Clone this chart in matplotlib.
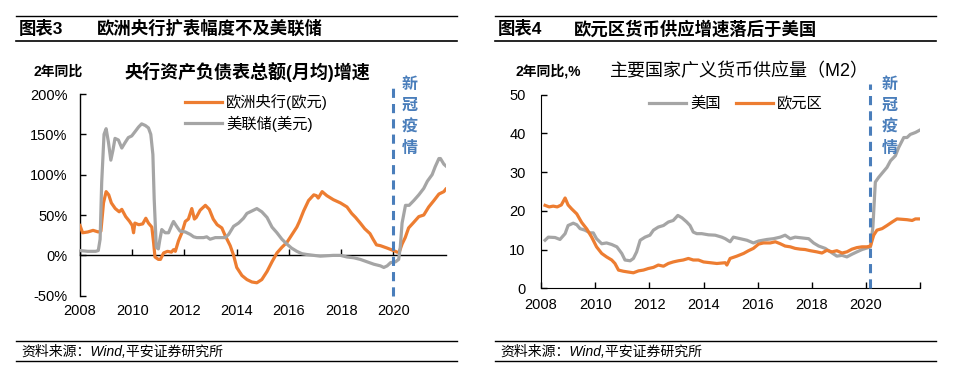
import matplotlib
matplotlib.use("Agg")
import matplotlib.pyplot as plt
from matplotlib.lines import Line2D
import numpy as np

plt.rcParams['font.family'] = ['Liberation Sans', 'Noto Sans CJK SC', 'DejaVu Sans']

# ---------------- Data: left chart (ECB / Fed balance sheet, 2y yoy %) ----------------
ecb_dates = [2008.0, 2008.1, 2008.3, 2008.5, 2008.7, 2008.8, 2008.9, 2009.0, 2009.1, 2009.2,
             2009.35, 2009.5, 2009.6, 2009.75, 2009.9, 2010.0, 2010.05, 2010.1, 2010.25, 2010.4,
             2010.52, 2010.62, 2010.75, 2010.82, 2010.87, 2011.0, 2011.08, 2011.2, 2011.35, 2011.5,
             2011.58, 2011.65, 2011.77, 2011.9, 2012.03, 2012.15, 2012.28, 2012.38, 2012.45, 2012.6,
             2012.8, 2012.95, 2013.1, 2013.25, 2013.43, 2013.55, 2013.75, 2013.88, 2014.0, 2014.2,
             2014.39, 2014.58, 2014.77, 2014.96, 2015.16, 2015.35, 2015.54, 2015.73, 2015.92, 2016.1,
             2016.3, 2016.4, 2016.56, 2016.75, 2016.95, 2017.05, 2017.12, 2017.27, 2017.45, 2017.7,
             2017.97, 2018.22, 2018.4, 2018.55, 2018.73, 2018.9, 2019.1, 2019.22, 2019.35, 2019.5,
             2019.76, 2020.0, 2020.14, 2020.22, 2020.33, 2020.45, 2020.58, 2020.75, 2020.97, 2021.16,
             2021.35, 2021.55, 2021.74, 2021.93, 2022.0]
ecb_values = [37, 28, 29, 31, 29, 30, 65, 79, 75, 65,
              58, 54, 57, 48, 42, 37, 28, 40, 38, 39,
              46, 40, 35, 15, -2, -5, -5, 3, 5, 4,
              7, 5, 18, 28, 42, 45, 58, 45, 47, 56,
              62, 57, 45, 38, 34, 25, 12, 0, -15, -25,
              -30, -33, -34, -30, -20, -8, 3, 10, 16, 25,
              35, 42, 55, 68, 75, 74, 71, 79, 74, 69,
              65, 60, 52, 47, 40, 33, 27, 20, 13, 12,
              9, 6, 4, 4, 14, 22, 34, 40, 48, 50,
              60, 68, 76, 79, 82]

fed_dates = [2008.0, 2008.3, 2008.6, 2008.7, 2008.77, 2008.83, 2008.92, 2009.0, 2009.09, 2009.18,
             2009.26, 2009.34, 2009.47, 2009.6, 2009.73, 2009.85, 2009.98, 2010.1, 2010.24, 2010.36,
             2010.5, 2010.62, 2010.71, 2010.79, 2010.84, 2010.92, 2011.0, 2011.06, 2011.13, 2011.26,
             2011.39, 2011.52, 2011.58, 2011.7, 2011.83, 2012.03, 2012.22, 2012.35, 2012.47, 2012.73,
             2012.85, 2012.98, 2013.18, 2013.37, 2013.56, 2013.69, 2013.88, 2014.07, 2014.26, 2014.39,
             2014.58, 2014.77, 2014.96, 2015.16, 2015.35, 2015.54, 2015.73, 2015.92, 2016.1, 2016.3,
             2016.5, 2016.7, 2016.95, 2017.2, 2017.7, 2017.97, 2018.22, 2018.48, 2018.73, 2018.99,
             2019.25, 2019.5, 2019.63, 2019.76, 2019.89, 2020.08, 2020.2, 2020.26, 2020.33, 2020.46,
             2020.6, 2020.78, 2020.97, 2021.16, 2021.3, 2021.48, 2021.6, 2021.74, 2021.8, 2021.93, 2022.0]
fed_values = [6, 5, 5, 6, 20, 90, 150, 157, 140, 118,
              130, 145, 143, 133, 140, 146, 148, 153, 159, 163,
              161, 158, 150, 125, 70, 10, 8, 20, 32, 28,
              28, 38, 42, 36, 30, 29, 26, 23, 22, 22,
              23, 20, 22, 22, 22, 26, 36, 40, 46, 52,
              55, 58, 54, 47, 35, 28, 20, 14, 9, 5,
              2, 1, 0, -1, 0, 0, -2, -3, -5, -8,
              -11, -13, -15, -13, -9, -8, -5, 10, 40, 62,
              62, 68, 75, 83, 92, 100, 110, 120, 120, 113, 111]

# ---------------- Data: right chart (M2, 2y yoy %) ----------------
ez_dates = [2008.15, 2008.3, 2008.45, 2008.6, 2008.75, 2008.89, 2009.0, 2009.13, 2009.32, 2009.5,
            2009.69, 2009.87, 2010.05, 2010.24, 2010.42, 2010.61, 2010.73, 2010.86, 2011.04, 2011.22,
            2011.41, 2011.6, 2011.78, 2011.96, 2012.15, 2012.33, 2012.52, 2012.7, 2012.88, 2013.07,
            2013.25, 2013.44, 2013.62, 2013.81, 2014.0, 2014.25, 2014.49, 2014.8, 2014.86, 2014.98,
            2015.23, 2015.48, 2015.66, 2015.84, 2016.03, 2016.21, 2016.46, 2016.65, 2016.83, 2017.01,
            2017.2, 2017.38, 2017.57, 2017.75, 2017.94, 2018.18, 2018.37, 2018.55, 2018.74, 2018.92,
            2019.11, 2019.29, 2019.48, 2019.66, 2019.85, 2020.03, 2020.16, 2020.28, 2020.4, 2020.59,
            2020.77, 2020.96, 2021.14, 2021.33, 2021.51, 2021.7, 2021.82, 2021.94]
ez_values = [21.4, 21.0, 21.2, 21.0, 21.5, 23.3, 21.5, 20.5, 19.2, 17.0,
             15.3, 13.2, 10.7, 9.0, 8.1, 7.3, 6.4, 4.7, 4.4, 4.2,
             4.0, 4.5, 4.7, 5.1, 5.4, 6.0, 5.7, 6.4, 6.8, 7.1,
             7.3, 7.7, 7.3, 7.3, 6.8, 6.6, 6.4, 6.6, 6.0, 7.7,
             8.3, 9.0, 9.7, 10.3, 11.4, 11.7, 11.7, 12.0, 11.5, 10.9,
             10.7, 10.3, 10.1, 10.0, 9.7, 9.4, 9.1, 9.8, 9.4, 9.7,
             9.1, 9.4, 10.1, 10.5, 10.7, 10.7, 10.9, 13.7, 15.0, 15.4,
             16.2, 17.1, 17.9, 17.8, 17.7, 17.5, 17.9, 17.9]

us_dates = [2008.15, 2008.27, 2008.52, 2008.7, 2008.89, 2009.0, 2009.19, 2009.32, 2009.44, 2009.62,
            2009.81, 2009.93, 2010.05, 2010.24, 2010.42, 2010.61, 2010.8, 2010.98, 2011.1, 2011.29,
            2011.41, 2011.53, 2011.66, 2011.84, 2012.02, 2012.15, 2012.33, 2012.52, 2012.7, 2012.88,
            2013.05, 2013.2, 2013.38, 2013.5, 2013.62, 2013.75, 2013.93, 2014.18, 2014.43, 2014.67,
            2014.8, 2014.98, 2015.1, 2015.35, 2015.6, 2015.84, 2016.03, 2016.34, 2016.58, 2016.83,
            2017.01, 2017.2, 2017.38, 2017.63, 2017.88, 2018.06, 2018.25, 2018.49, 2018.68, 2018.92,
            2019.11, 2019.29, 2019.48, 2019.66, 2019.85, 2020.03, 2020.16, 2020.25, 2020.34, 2020.46,
            2020.59, 2020.77, 2020.9, 2021.08, 2021.2, 2021.39, 2021.51, 2021.63, 2021.82, 2021.98]
us_values = [12.4, 13.2, 13.1, 12.6, 14.1, 16.2, 16.8, 16.4, 15.4, 15.0,
             14.3, 14.3, 12.8, 11.5, 11.7, 11.3, 10.7, 9.0, 7.3, 7.1,
             7.7, 9.4, 12.4, 13.2, 13.7, 15.0, 15.8, 16.2, 17.1, 17.5,
             18.8, 18.2, 17.1, 16.2, 14.5, 14.1, 14.1, 13.8, 13.7, 13.2,
             12.8, 12.0, 13.2, 12.8, 12.4, 11.7, 12.2, 12.6, 12.8, 13.2,
             13.7, 12.8, 13.2, 13.0, 12.8, 11.7, 10.9, 10.3, 9.4, 8.3,
             8.5, 8.1, 8.8, 9.4, 10.0, 10.4, 10.7, 15.8, 27.4, 28.6,
             29.7, 31.2, 32.9, 34.2, 36.3, 38.9, 38.9, 39.7, 40.2, 40.8]

left_yticks = [-50, 0, 50, 100, 150, 200]
left_ytick_labels = ['-50%', '0%', '50%', '100%', '150%', '200%']
right_yticks = [0, 10, 20, 30, 40, 50]
left_xticks = [2008, 2010, 2012, 2014, 2016, 2018, 2020]
right_xticks = [2008, 2010, 2012, 2014, 2016, 2018, 2020, 2022]
right_xtick_labels = ['2008', '2010', '2012', '2014', '2016', '2018', '2020', '']
covid_x_left = 2019.98
covid_x_right = 2020.13

ORANGE = '#ED7D31'
GRAY = '#A5A5A5'
BLUE = '#4A7EBB'

W, H = 954, 373
fig = plt.figure(figsize=(W / 100, H / 100), dpi=100)


def fx(px):
    return px / W


def fy(py):
    return 1 - py / H


def hline(x0, x1, y, lw):
    fig.add_artist(Line2D([fx(x0), fx(x1)], [fy(y), fy(y)], color='black', lw=lw,
                          transform=fig.transFigure))


# ---------- Panel decorations ----------
for (x0, x1, hx, tx, num, title) in [
        (16, 457, 19, 97, '图表3', '欧洲央行扩表幅度不及美联储'),
        (495, 936, 498, 574, '图表4', '欧元区货币供应增速落后于美国')]:
    hline(x0, x1, 16, 1.0)
    hline(x0, x1, 41, 1.2)
    hline(x0, x1, 341, 1.0)
    hline(x0, x1, 361, 1.0)
    fig.text(fx(hx), fy(28.5), num, fontsize=12.5, fontweight='bold', va='center', ha='left')
    fig.text(fx(tx), fy(28.5), title, fontsize=12.5, fontweight='bold', va='center', ha='left')
    fig.text(fx(x0 + 5), fy(351.5), '资料来源：Wind,平安证券研究所', fontsize=10,
             va='center', ha='left', style='italic')

# ---------- Left chart ----------
axL = fig.add_axes([fx(80), fy(295.7), fx(445.7) - fx(80), fy(94) - fy(295.7)])
axL.plot(ecb_dates, ecb_values, color=ORANGE, lw=2.3, label='欧洲央行(欧元)', zorder=3,
         solid_joinstyle='round')
axL.plot(fed_dates, fed_values, color=GRAY, lw=2.3, label='美联储(美元)', zorder=3,
         solid_joinstyle='round')
axL.set_xlim(2008, 2022.0)
axL.set_ylim(-50, 200)
axL.spines['top'].set_visible(False)
axL.spines['right'].set_visible(False)
axL.spines['bottom'].set_position(('data', 0))
axL.spines['left'].set_linewidth(1.0)
axL.spines['bottom'].set_linewidth(1.0)
axL.set_yticks(left_yticks)
axL.set_yticklabels(left_ytick_labels)
axL.set_xticks(left_xticks)
axL.set_xticklabels([str(t) for t in left_xticks])
axL.tick_params(axis='y', direction='in', length=4, width=1, pad=9, labelsize=10.5)
axL.tick_params(axis='x', direction='in', length=4, width=1, pad=35, labelsize=10.5)
axL.axvline(covid_x_left, ymin=0, ymax=1.055, color=BLUE, lw=2.2, ls=(0, (3, 2)),
            clip_on=False, zorder=4)
for i, ch in enumerate('新冠疫情'):
    fig.text(fx(409.5), fy(84 + 21.5 * i), ch, color=BLUE, fontsize=11.5, fontweight='bold',
             ha='center', va='center')
fig.text(fx(34), fy(71.5), '2年同比', fontsize=10, fontweight='bold', ha='left', va='center')
fig.text(fx(124), fy(71.5), '央行资产负债表总额(月均)增速', fontsize=13, fontweight='bold',
         ha='left', va='center')
legL = axL.legend(loc='upper left', bbox_to_anchor=(fx(185), fy(94)),
                  bbox_transform=fig.transFigure, frameon=False, fontsize=11,
                  handlelength=2.4, handletextpad=0.3, labelspacing=0.35, borderpad=0,
                  borderaxespad=0)

# ---------- Right chart ----------
axR = fig.add_axes([fx(541), fy(288.3), fx(920.3) - fx(541), fy(94.5) - fy(288.3)])
axR.plot(us_dates, us_values, color=GRAY, lw=2.3, label='美国', zorder=3)
axR.plot(ez_dates, ez_values, color=ORANGE, lw=2.3, label='欧元区', zorder=3)
axR.set_xlim(2008, 2022.0)
axR.set_ylim(0, 50)
axR.spines['top'].set_visible(False)
axR.spines['right'].set_visible(False)
axR.set_yticks(right_yticks)
axR.set_xticks(right_xticks)
axR.set_xticklabels(right_xtick_labels)
axR.tick_params(axis='y', direction='in', length=4, width=1, pad=11, labelsize=10.5)
axR.tick_params(axis='x', direction='in', length=4, width=1, pad=7, labelsize=10.5)
axR.axvline(covid_x_right, ymin=0, ymax=1.055, color=BLUE, lw=2.2, ls=(0, (3, 2)),
            clip_on=False, zorder=4)
for i, ch in enumerate('新冠疫情'):
    fig.text(fx(889.5), fy(84 + 21.5 * i), ch, color=BLUE, fontsize=11.5, fontweight='bold',
             ha='center', va='center')
fig.text(fx(516), fy(71.5), '2年同比,%', fontsize=10, fontweight='bold', ha='left', va='center')
fig.text(fx(610), fy(71.5), '主要国家广义货币供应量（M2）', fontsize=13,
         ha='left', va='center')
legR = axR.legend(loc='upper left', bbox_to_anchor=(fx(649), fy(97)),
                  bbox_transform=fig.transFigure, frameon=False, fontsize=11, ncol=2,
                  handlelength=2.4, handletextpad=0.3, columnspacing=1.0, borderpad=0,
                  borderaxespad=0)

fig.savefig('out.png', dpi=100)
